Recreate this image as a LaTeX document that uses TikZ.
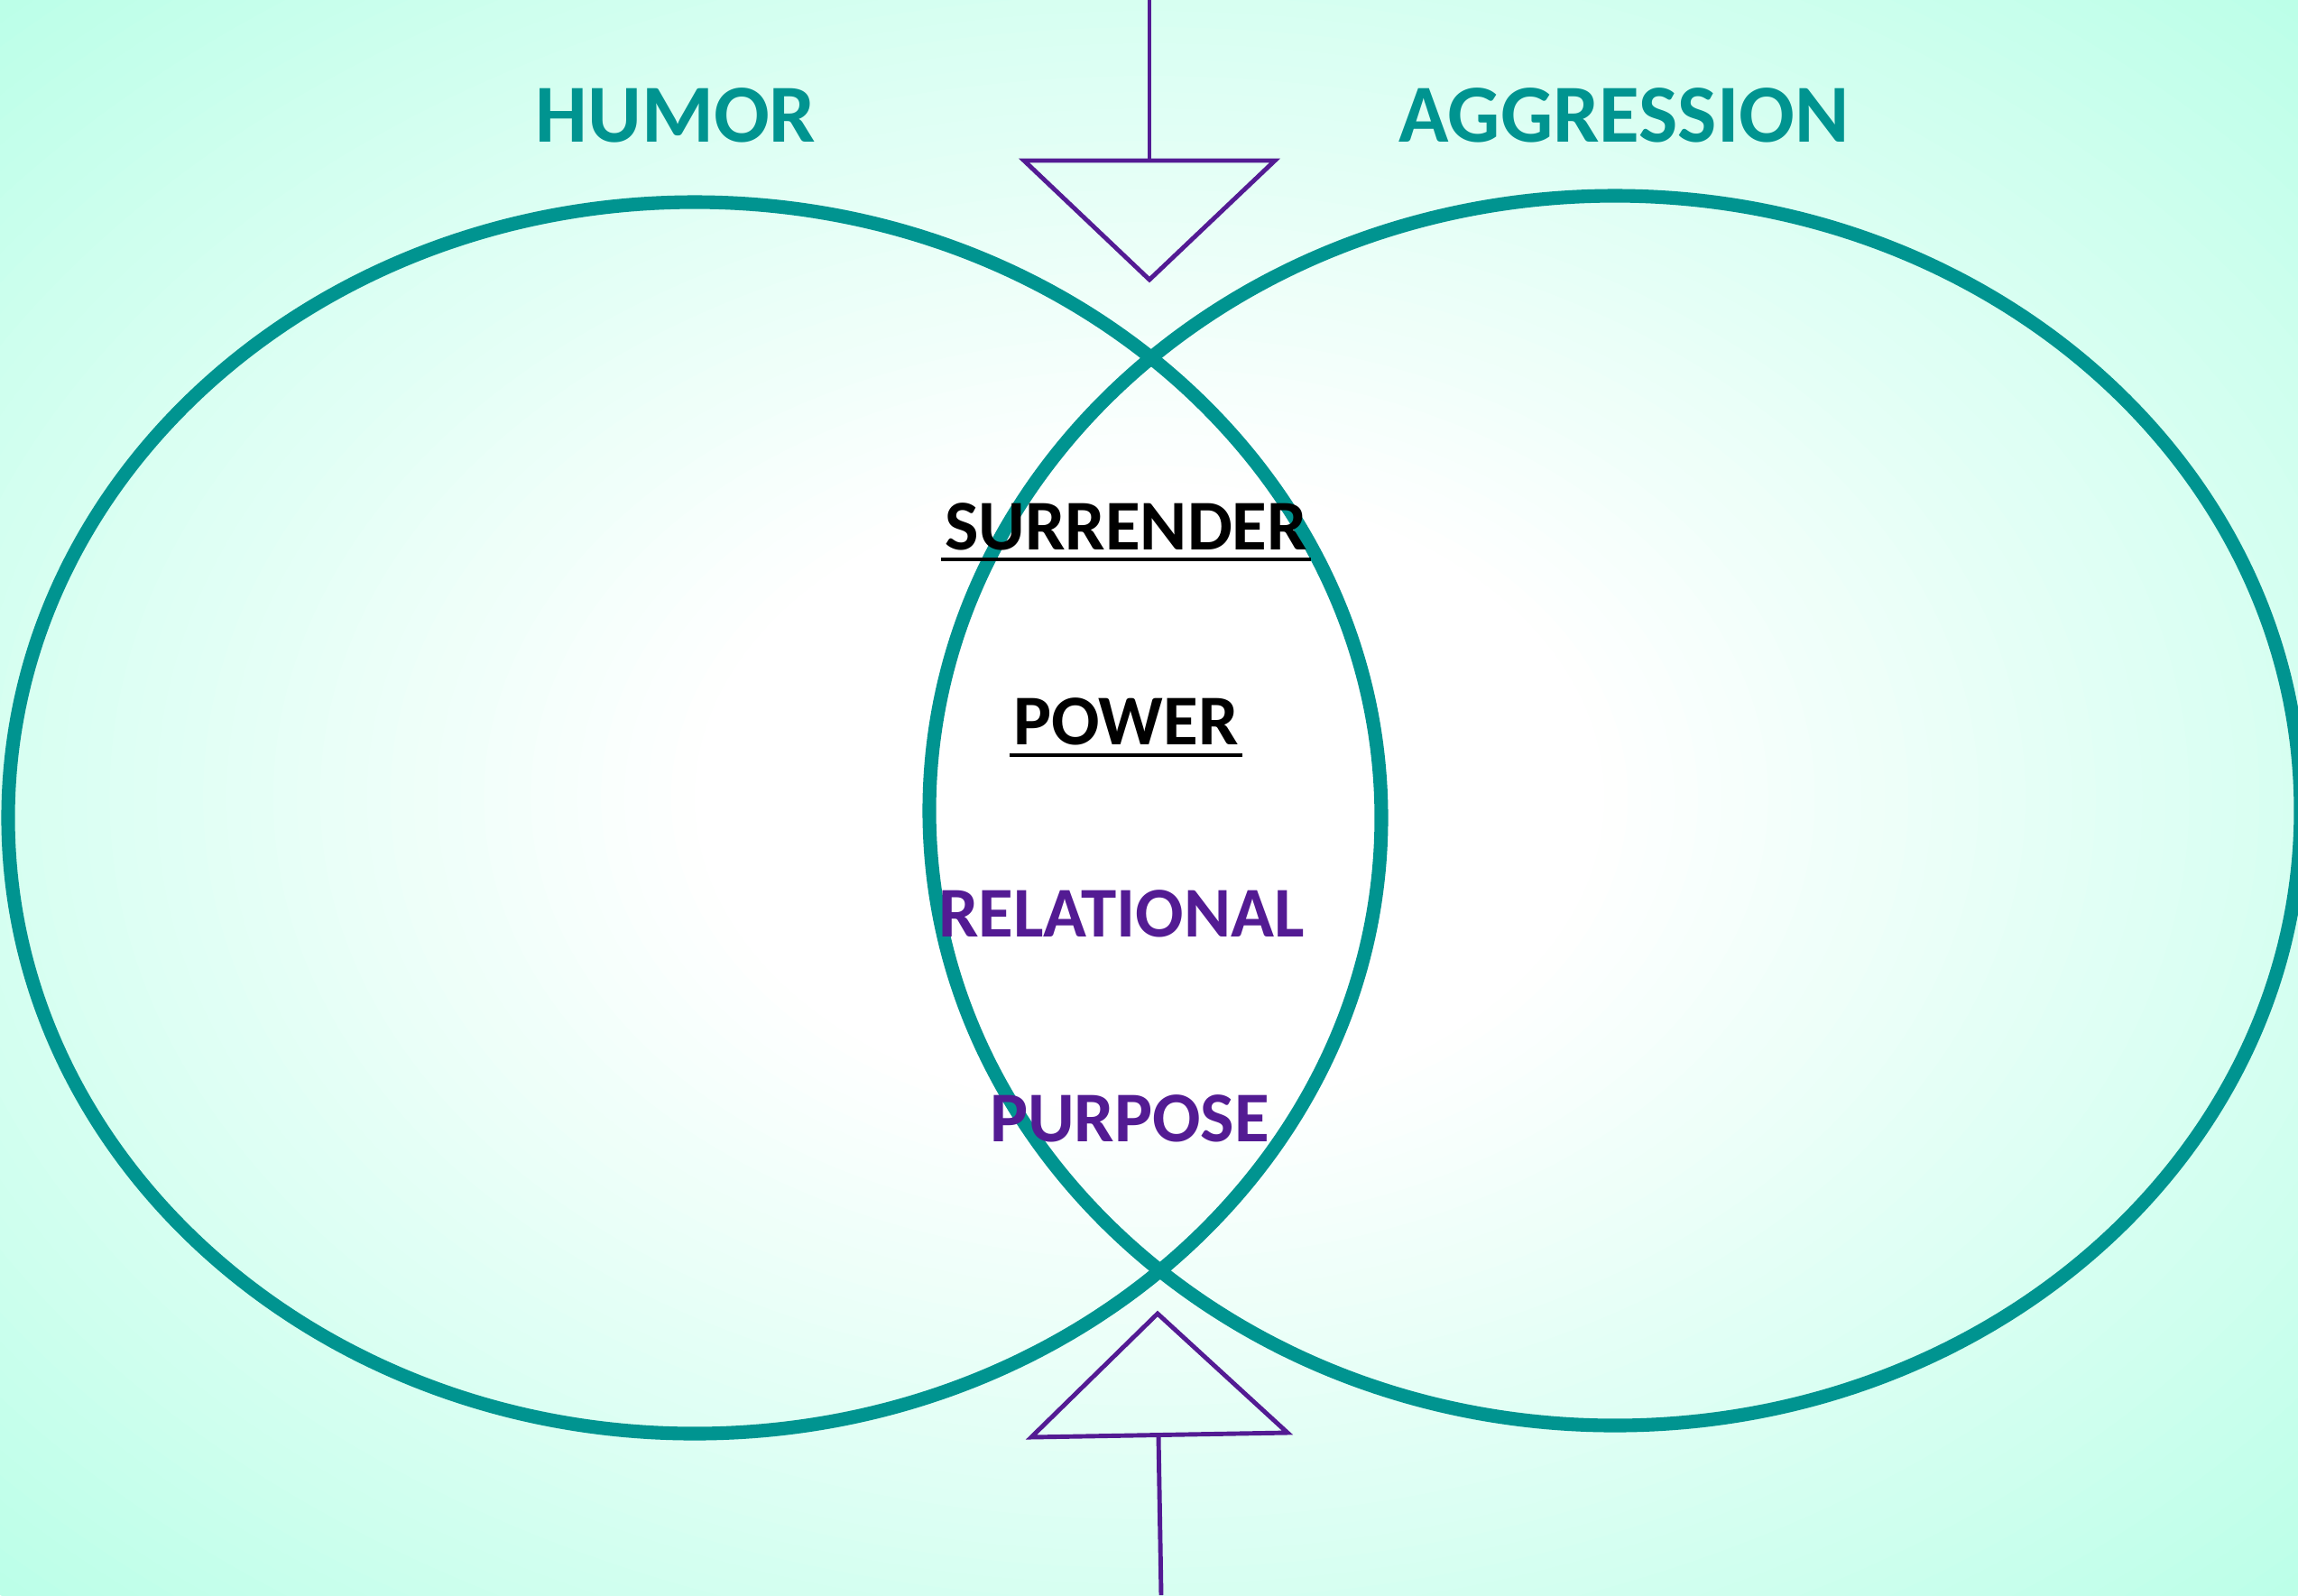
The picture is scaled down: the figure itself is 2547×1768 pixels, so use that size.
\documentclass[tikz,border=0pt]{standalone}
\usepackage{fontspec}
\setmainfont{Carlito}
\usetikzlibrary{calc}
\definecolor{ringteal}{RGB}{0,148,144}
\definecolor{arrpurple}{RGB}{83,27,147}
\definecolor{bgmint}{RGB}{188,255,232}
\tikzset{
  ring/.style={draw=ringteal, line width=4.3pt},
  arrowline/.style={draw=arrpurple, line width=1.4pt, line join=miter},
  title/.style={text=ringteal, font=\bfseries\fontsize{26}{30}\selectfont, inner sep=0pt, anchor=base},
  word/.style={font=\bfseries\fontsize{22.5}{27}\selectfont, inner sep=0pt, anchor=base},
  uline/.style={draw=black, line width=1.2pt}
}
\begin{document}
\begin{tikzpicture}[x=0.01cm,y=-0.01cm]
\fill[bgmint] (0,0) rectangle (2547,1768);
\begin{scope}
\clip (0,0) rectangle (2547,1768);
\foreach \i in {0,...,50}{
  \pgfmathsetmacro\s{1-0.72*\i/50}
  \pgfmathtruncatemacro\p{100-2*\i}
  \fill[bgmint!\p!white] (1274,884) ellipse [x radius=1801*\s, y radius=1250*\s];
}
\end{scope}
\useasboundingbox (0,0) rectangle (2547,1768);
% rings
\draw[ring] (770,906.5) ellipse [x radius=761, y radius=682.5];
\draw[ring] (1790,898.5) ellipse [x radius=760, y radius=681.5];
% titles
\node[title] (humor) at (749,157) {HUMOR};
\node[title] (aggr) at (1800,157) {AGGRESSION};
% center words
\node[word, text=black] (sur) at (1248,609) {SURRENDER};
\node[word, text=black] (pow) at (1248,825) {POWER};
\node[word, text=arrpurple] (rel) at (1243,1038) {RELATIONAL};
\node[word, text=arrpurple] (pur) at (1252,1265) {PURPOSE};
\draw[uline] ($(sur.base west)+(-3,11)$) -- ($(sur.base east)+(3,11)$);
\draw[uline] ($(pow.base west)+(-4,12)$) -- ($(pow.base east)+(4,12)$);
% top arrow
\coordinate (ttop) at (1274,0);
\coordinate (tbase) at (1274,178);
\coordinate (tl) at (1135,178);
\coordinate (tr) at (1413,178);
\coordinate (tapex) at (1274,310);
\draw[arrowline] (ttop) -- (tbase);
\draw[arrowline] (tl) -- (tr) -- (tapex) -- cycle;
% bottom arrow
\coordinate (bbot) at (1287,1768);
\coordinate (bbase) at (1284,1591);
\coordinate (bl) at (1143,1593);
\coordinate (br) at (1427,1588);
\coordinate (bapex) at (1283,1456);
\draw[arrowline] (bbot) -- (bbase);
\draw[arrowline] (bl) -- (br) -- (bapex) -- cycle;
\end{tikzpicture}
\end{document}
